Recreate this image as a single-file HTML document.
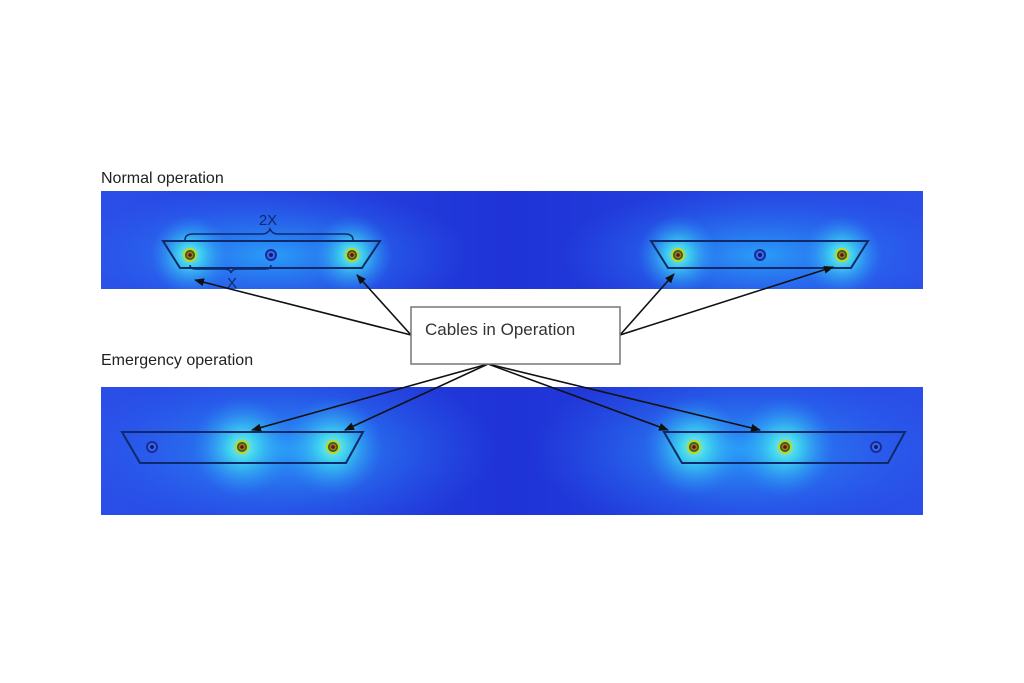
<!DOCTYPE html>
<html><head><meta charset="utf-8"><style>
html,body{margin:0;padding:0;background:#fff;}
svg{display:block;}
text{font-family:"Liberation Sans",sans-serif;}
</style></head><body>
<svg width="1024" height="683" viewBox="0 0 1024 683" xmlns="http://www.w3.org/2000/svg">
<defs>
<clipPath id="c1"><rect x="101" y="191" width="822" height="98"/></clipPath>
<clipPath id="c2"><rect x="101" y="387" width="822" height="128"/></clipPath>
<radialGradient id="hot" cx="50%" cy="50%" r="50%">
<stop offset="0" stop-color="#8af8d0" stop-opacity="1"/>
<stop offset="0.3" stop-color="#40e0f0" stop-opacity="0.8"/>
<stop offset="1" stop-color="#2a8cf8" stop-opacity="0"/>
</radialGradient>
<radialGradient id="wide" cx="50%" cy="50%" r="50%">
<stop offset="0" stop-color="#2aa8fa" stop-opacity="0.9"/>
<stop offset="1" stop-color="#2a6cf5" stop-opacity="0"/>
</radialGradient>
<linearGradient id="band" x1="0" y1="0" x2="1" y2="0">
<stop offset="0" stop-color="#2a4fe8"/>
<stop offset="0.5" stop-color="#1f33d6"/>
<stop offset="1" stop-color="#2a4fe8"/>
</linearGradient>
<marker id="ah" markerWidth="10" markerHeight="8" refX="9" refY="4" orient="auto" markerUnits="userSpaceOnUse">
<path d="M0,0 L10,4 L0,8 z" fill="#111"/>
</marker>
<g id="on"><circle r="7" fill="#c9d21a"/><circle r="5" fill="#1a5a3a"/><circle r="3.5" fill="#9a7a1a"/><circle r="1.8" fill="#6a1010"/></g>
<g id="off"><circle r="6" fill="#1a2a9a"/><circle r="4" fill="#3a6af0"/><circle r="2" fill="#102060"/></g>
</defs>
<text x="101" y="183" font-size="16" fill="#222">Normal operation</text>
<text x="101" y="365" font-size="16" fill="#222">Emergency operation</text>

<rect x="101" y="191" width="822" height="98" fill="url(#band)"/>
<g clip-path="url(#c1)">
<ellipse cx="271" cy="255" rx="200" ry="70" fill="url(#wide)"/>
<ellipse cx="760" cy="255" rx="200" ry="70" fill="url(#wide)"/>
<circle cx="190" cy="255" r="40" fill="url(#hot)"/>
<circle cx="352" cy="255" r="40" fill="url(#hot)"/>
<circle cx="678" cy="255" r="40" fill="url(#hot)"/>
<circle cx="842" cy="255" r="40" fill="url(#hot)"/>
</g>

<rect x="101" y="387" width="822" height="128" fill="url(#band)"/>
<g clip-path="url(#c2)">
<ellipse cx="288" cy="450" rx="210" ry="90" fill="url(#wide)"/>
<ellipse cx="740" cy="450" rx="210" ry="90" fill="url(#wide)"/>
<circle cx="242" cy="447" r="50" fill="url(#hot)"/>
<circle cx="333" cy="447" r="50" fill="url(#hot)"/>
<circle cx="694" cy="447" r="50" fill="url(#hot)"/>
<circle cx="785" cy="447" r="50" fill="url(#hot)"/>
</g>

<g fill="none" stroke="#0e2a6a" stroke-width="2">
<path d="M163,241 L380,241 L362,268 L180,268 Z"/>
<path d="M651,241 L868,241 L851,268 L668,268 Z"/>
<path d="M122,432 L363,432 L346,463 L140,463 Z"/>
<path d="M664,432 L905,432 L888,463 L682,463 Z"/>
<path d="M185,240 q0,-6 8,-6 L262,234 q6,0 8,-5 q2,5 8,5 L345,234 q8,0 8,6" stroke-width="1.5"/>
<path d="M190,265 q0,4 6,4 L225,269 q5,0 6,4 q1,-4 6,-4 L265,269 q6,0 6,-4" stroke-width="1.5"/>
</g>
<text x="268" y="225" font-size="15" fill="#0e2a6a" text-anchor="middle">2X</text>
<text x="232" y="288" font-size="15" fill="#0e2a6a" text-anchor="middle">X</text>

<use href="#on" x="190" y="255"/><use href="#off" x="271" y="255"/><use href="#on" x="352" y="255"/>
<use href="#on" x="678" y="255"/><use href="#off" x="760" y="255"/><use href="#on" x="842" y="255"/>
<use href="#off" x="152" y="447"/><use href="#on" x="242" y="447"/><use href="#on" x="333" y="447"/>
<use href="#on" x="694" y="447"/><use href="#on" x="785" y="447"/><use href="#off" x="876" y="447"/>

<g stroke="#111" stroke-width="1.6" fill="none" marker-end="url(#ah)">
<line x1="411" y1="335" x2="195" y2="280"/>
<line x1="411" y1="335" x2="357" y2="275"/>
<line x1="620" y1="335" x2="674" y2="274"/>
<line x1="620" y1="335" x2="833" y2="267"/>
<line x1="488" y1="364" x2="252" y2="430"/>
<line x1="488" y1="364" x2="345" y2="430"/>
<line x1="488" y1="364" x2="668" y2="430"/>
<line x1="488" y1="364" x2="760" y2="430"/>
</g>
<rect x="411" y="307" width="209" height="57" fill="#fff" stroke="#777" stroke-width="1.5"/>
<text x="425" y="335" font-size="17" fill="#333">Cables in Operation</text>
</svg>
</body></html>
